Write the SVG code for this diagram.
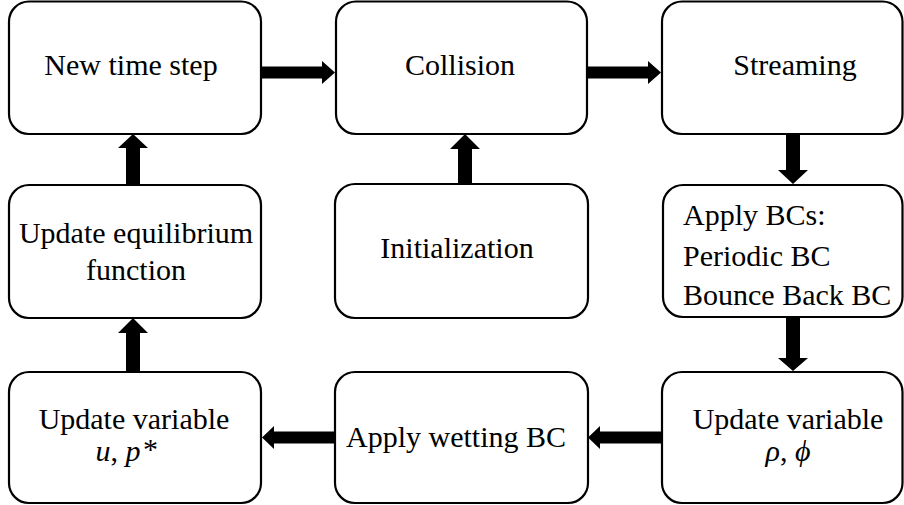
<svg xmlns="http://www.w3.org/2000/svg" width="904" height="505" viewBox="0 0 904 505">
<style>
.box{fill:#fff;stroke:#000;stroke-width:2.2}
.t{font-family:"Liberation Serif","Times New Roman",serif;font-size:30px;fill:#000}
.m{font-family:"Liberation Serif","Times New Roman",serif;font-size:30px;font-style:italic;fill:#000}
.arr{fill:#000}
</style>
<rect width="904" height="505" fill="#fff"/>
<g id="connectors">
  <polygon class="arr" points="261,66.5 322,66.5 322,61 335,72.5 322,84 322,78.5 261,78.5"/>
  <polygon class="arr" points="587,66.5 648,66.5 648,61 661,72.5 648,84 648,78.5 587,78.5"/>
  <polygon class="arr" points="786,134 800,134 800,170 808,170 793,184 778,170 786,170"/>
  <polygon class="arr" points="786,317 800,317 800,358 808,358 793,371 778,358 786,358"/>
  <polygon class="arr" points="662,431.5 600,431.5 600,426 588,437.5 600,449 600,443.5 662,443.5"/>
  <polygon class="arr" points="335,431.5 274,431.5 274,426 262,437.5 274,449 274,443.5 335,443.5"/>
  <polygon class="arr" points="126,372 140,372 140,333 148,333 133,318 118,333 126,333"/>
  <polygon class="arr" points="126,185 140,185 140,148 148,148 133,134 118,148 126,148"/>
  <polygon class="arr" points="458,184 472,184 472,149 480,149 465,134 450,149 458,149"/>
</g>
<g id="n1">
  <rect class="box" x="9" y="1.5" width="252" height="132.5" rx="20"/>
  <text class="t" x="131" y="75" text-anchor="middle">New time step</text>
</g>
<g id="n2">
  <rect class="box" x="336" y="1.5" width="251" height="132.5" rx="20"/>
  <text class="t" x="460" y="75" text-anchor="middle">Collision</text>
</g>
<g id="n3">
  <rect class="box" x="662" y="1.5" width="240.5" height="132.5" rx="20"/>
  <text class="t" x="795" y="75" text-anchor="middle">Streaming</text>
</g>
<g id="n4">
  <rect class="box" x="663" y="185" width="239.5" height="132" rx="20"/>
  <text class="t" x="683" y="225">Apply BCs:</text>
  <text class="t" x="683" y="266">Periodic BC</text>
  <text class="t" x="683" y="305">Bounce Back BC</text>
</g>
<g id="n5">
  <rect class="box" x="662" y="372" width="240.5" height="131" rx="20"/>
  <text class="t" x="788" y="429" text-anchor="middle">Update variable</text>
  <text class="m" x="788" y="461" text-anchor="middle">ρ<tspan font-style="normal">, </tspan>ϕ</text>
</g>
<g id="n6">
  <rect class="box" x="335" y="372" width="253" height="131" rx="20"/>
  <text class="t" x="456" y="447" text-anchor="middle">Apply wetting BC</text>
</g>
<g id="n7">
  <rect class="box" x="9" y="372" width="252" height="131" rx="20"/>
  <text class="t" x="134" y="429" text-anchor="middle">Update variable</text>
  <text class="m" x="118" y="461" text-anchor="middle">u<tspan font-style="normal">, </tspan>p</text>
  <text class="t" x="143" y="459" font-size="17">*</text>
</g>
<g id="n8">
  <rect class="box" x="9" y="185" width="252" height="133" rx="20"/>
  <text class="t" x="136" y="243" text-anchor="middle">Update equilibrium</text>
  <text class="t" x="136" y="280" text-anchor="middle">function</text>
</g>
<g id="n9">
  <rect class="box" x="335" y="184" width="253" height="134" rx="20"/>
  <text class="t" x="457" y="258" text-anchor="middle">Initialization</text>
</g>
</svg>
